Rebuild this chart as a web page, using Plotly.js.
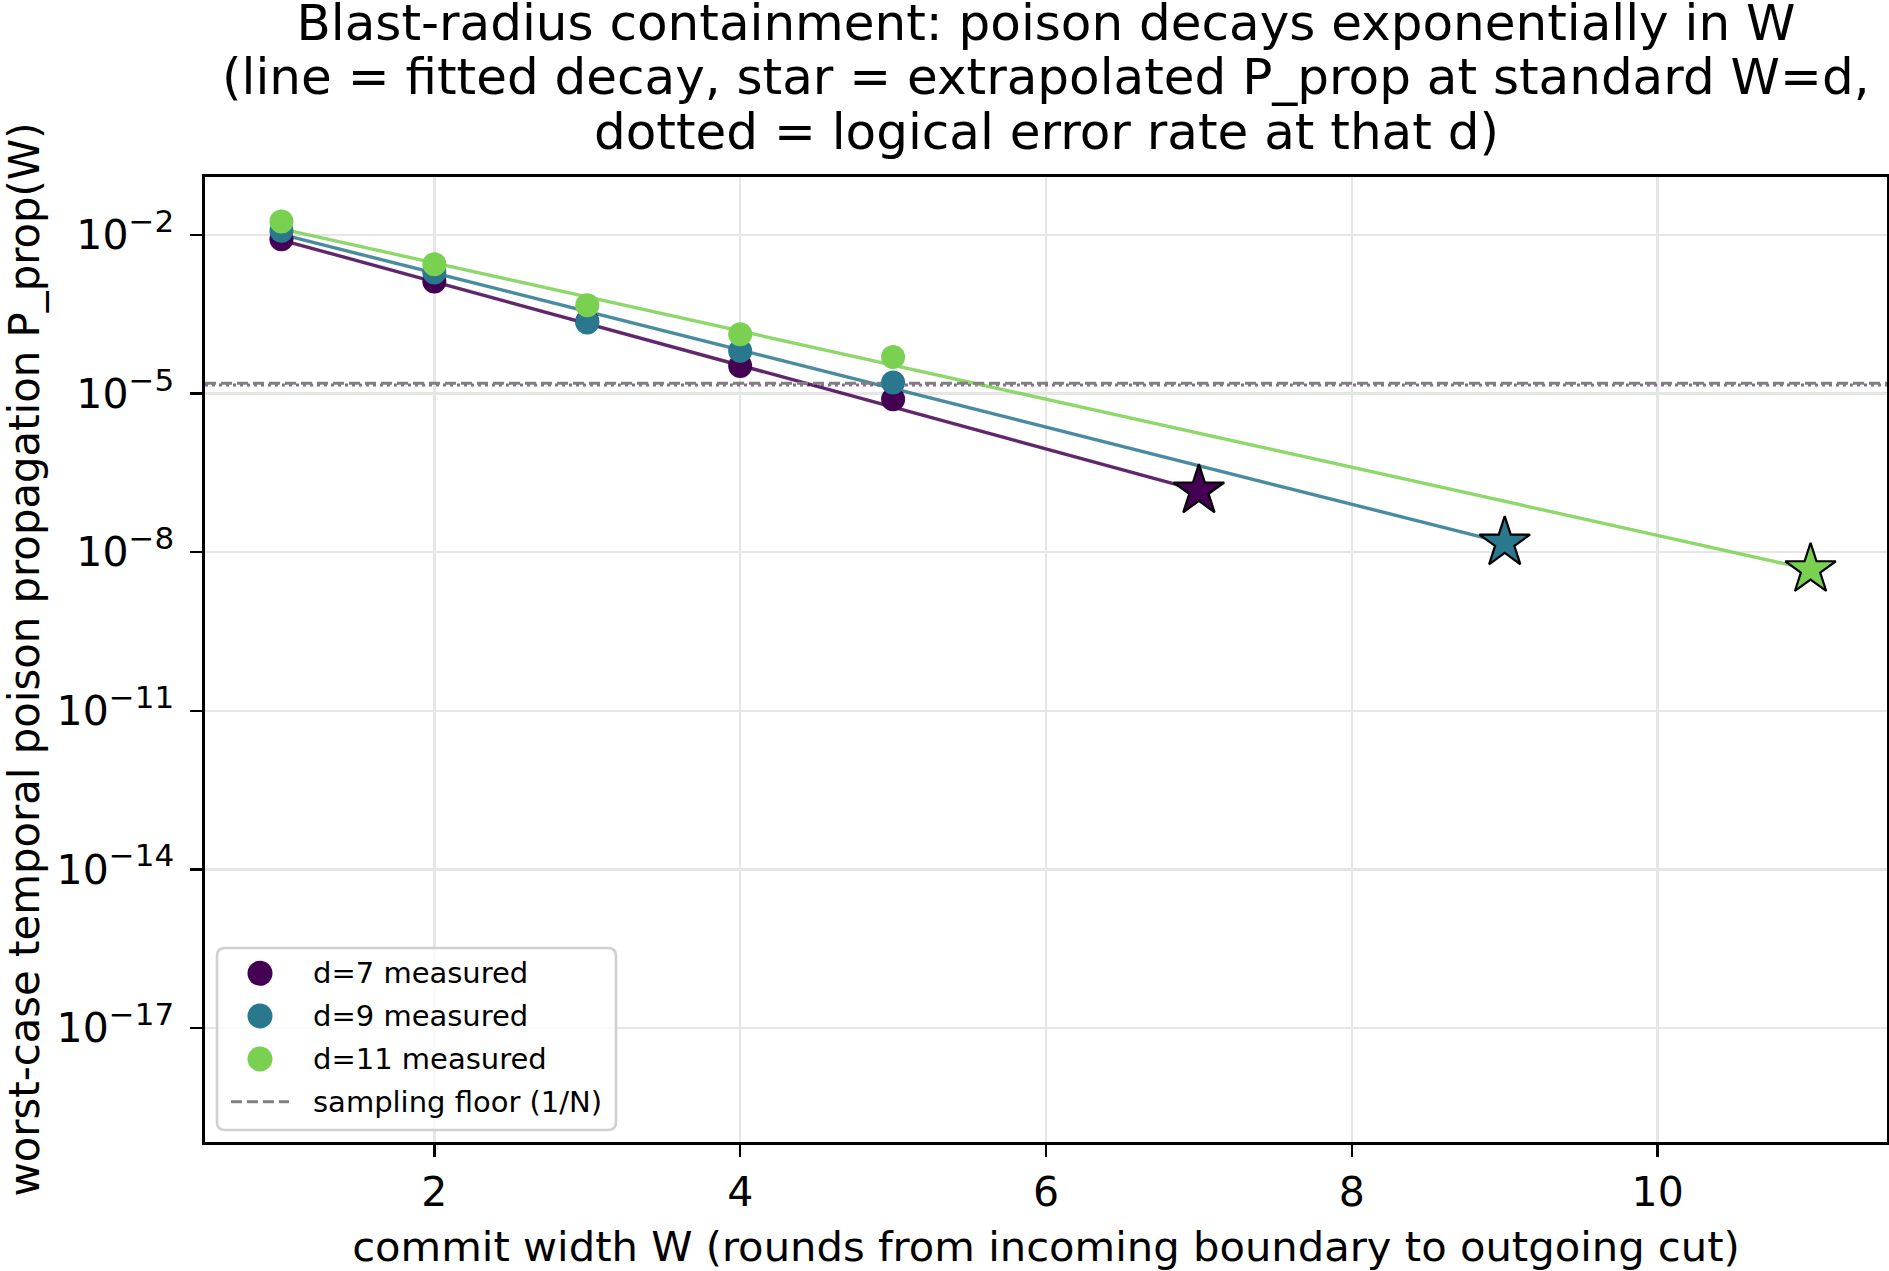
<!DOCTYPE html>
<html>
<head>
<meta charset="utf-8">
<script src="https://cdn.plot.ly/plotly-3.0.1.min.js"></script>
<style>
  html, body { margin: 0; padding: 0; background: #ffffff; }
  #chart { width: 1889px; height: 1271px; }
</style>
</head>
<body>
<div id="chart"></div>
<script>
// Commit width W (rounds) at which poison propagation was measured
const commitWidths = [1, 2, 3, 4, 5];

// Code distances and their legend labels / viridis colours
const distances = [7, 9, 11];
const seriesLabels = ['d=7 measured', 'd=9 measured', 'd=11 measured'];
const seriesColors = ['#440154', '#2a788e', '#7ad151'];

// Measured worst-case P_prop(W) per distance
const pPropD7 = [8.3e-3, 1.31e-3, 2.3e-4, 3.3e-5, 7.8e-6];
const pPropD9 = [1.2e-2, 1.94e-3, 2.2e-4, 6.4e-5, 1.61e-5];
const pPropD11 = [1.8e-2, 2.79e-3, 4.68e-4, 1.32e-4, 4.92e-5];

// Fitted exponential decay: value at W=1, and extrapolated value at W=d (star)
const fitAtW1 = [8.0e-3, 1.02e-2, 1.3e-2];
const extrapolatedAtD = [1.45e-7, 1.5e-8, 4.7e-9];

// Reference levels
const samplingFloor = 1.5625e-5;      // 1/N
const logicalErrorD7 = 1.45e-5;       // logical error rate at d=7

// Axis ticks
const xTickVals = [2, 4, 6, 8, 10];
const yTickExponents = [-2, -5, -8, -11, -14, -17];

// Text
const titleLines = [
  'Blast-radius containment: poison decays exponentially in W',
  '(line = fitted decay, star = extrapolated P_prop at standard W=d,',
  'dotted = logical error rate at that d)'
];
const xTitle = 'commit width W (rounds from incoming boundary to outgoing cut)';
const yTitle = 'worst-case temporal poison propagation P_prop(W)';
const legendFloorLabel = 'sampling floor (1/N)';

// ---------------------------------------------------------------
const FONT = 'DejaVu Sans, Verdana, sans-serif';
const FIG_W = 1889, FIG_H = 1271;
const M = { l: 205, r: 2, t: 177, b: 129 };
const PLOT_W = FIG_W - M.l - M.r;
const PLOT_H = FIG_H - M.t - M.b;
const xRange = [0.5, 11.5];
const yRangeLog = [-19.157, -0.905];

const px2x = px => (px - M.l) / PLOT_W;
const px2y = py => (FIG_H - M.b - py) / PLOT_H;

const measured = [pPropD7, pPropD9, pPropD11];
const traces = [];

// logical error rate (dotted) across the axis
traces.push({
  x: xRange, y: [logicalErrorD7, logicalErrorD7],
  mode: 'lines', type: 'scatter', showlegend: false, hoverinfo: 'skip',
  line: { color: seriesColors[0], width: 3, dash: '3px,4px' },
  opacity: 0.6
});

// fitted decay lines, W=1 .. W=d
distances.forEach((d, i) => {
  traces.push({
    x: [commitWidths[0], d], y: [fitAtW1[i], extrapolatedAtD[i]],
    mode: 'lines', type: 'scatter', showlegend: false, hoverinfo: 'skip',
    line: { color: seriesColors[i], width: 3.4 },
    opacity: 0.85
  });
});

// sampling floor (dashed)
traces.push({
  x: xRange, y: [samplingFloor, samplingFloor],
  mode: 'lines', type: 'scatter', name: legendFloorLabel, showlegend: false,
  line: { color: '#808080', width: 3.2, dash: '11px,5px' }
});

// measured points
distances.forEach((d, i) => {
  traces.push({
    x: commitWidths, y: measured[i],
    mode: 'markers', type: 'scatter', name: seriesLabels[i], showlegend: false,
    marker: { color: seriesColors[i], size: 24, line: { width: 0 } }
  });
});

// extrapolated stars at W=d
distances.forEach((d, i) => {
  traces.push({
    x: [d], y: [extrapolatedAtD[i]],
    mode: 'markers', type: 'scatter', showlegend: false,
    marker: { symbol: 'star', color: seriesColors[i], size: 38,
              line: { color: '#000000', width: 2.2 } }
  });
});

// ---- legend (drawn as shapes + text) ----
const shapes = [];
const annotations = [];
const LG = { left: 217, right: 616, top: 948, bottom: 1130, r: 8 };
const boxPath = (() => {
  const L = LG.left, R = LG.right, T = LG.top, B = LG.bottom, r = LG.r;
  const p = (x, y) => px2x(x).toFixed(6) + ',' + px2y(y).toFixed(6);
  return 'M' + p(L + r, T) + ' L' + p(R - r, T) + ' Q' + p(R, T) + ' ' + p(R, T + r) +
         ' L' + p(R, B - r) + ' Q' + p(R, B) + ' ' + p(R - r, B) +
         ' L' + p(L + r, B) + ' Q' + p(L, B) + ' ' + p(L, B - r) +
         ' L' + p(L, T + r) + ' Q' + p(L, T) + ' ' + p(L + r, T) + ' Z';
})();
shapes.push({
  type: 'path', xref: 'paper', yref: 'paper', path: boxPath, layer: 'above',
  fillcolor: 'rgba(255,255,255,0.8)', line: { color: '#d0d0d0', width: 2.6 }
});
const rowY = [973.3, 1016, 1059, 1101.7];
const symX = 260, textX = 311;
seriesLabels.forEach((lab, i) => {
  shapes.push({
    type: 'circle', xref: 'paper', yref: 'paper', layer: 'above',
    xsizemode: 'pixel', ysizemode: 'pixel',
    xanchor: px2x(symX), yanchor: px2y(rowY[i]),
    x0: -12.5, x1: 12.5, y0: -12.5, y1: 12.5,
    fillcolor: seriesColors[i], line: { width: 0 }
  });
  annotations.push({
    xref: 'paper', yref: 'paper', x: px2x(textX), y: px2y(rowY[i]),
    xanchor: 'left', yanchor: 'middle', showarrow: false, text: lab,
    font: { family: FONT, size: 29, color: '#000000' }
  });
});
shapes.push({
  type: 'line', xref: 'paper', yref: 'paper', layer: 'above',
  x0: px2x(231), x1: px2x(289), y0: px2y(rowY[3]), y1: px2y(rowY[3]),
  line: { color: '#808080', width: 3, dash: '11px,5px' }
});
annotations.push({
  xref: 'paper', yref: 'paper', x: px2x(textX), y: px2y(rowY[3]),
  xanchor: 'left', yanchor: 'middle', showarrow: false, text: legendFloorLabel,
  font: { family: FONT, size: 29, color: '#000000' }
});

// ---- title: first line as the layout title, the two follow-on lines below it ----
const TITLE_SIZE = 50;
const titleCenters = [22.5, 76.7, 132.1];   // vertical centres of the three lines, px from top
[1, 2].forEach(k => {
  annotations.push({
    xref: 'paper', yref: 'paper', x: 0.5, y: px2y(titleCenters[k]),
    xanchor: 'center', yanchor: 'middle', showarrow: false, text: titleLines[k],
    font: { family: FONT, size: TITLE_SIZE, color: '#000000' }
  });
});

const TICK_SIZE = 41;
const SUP_SIZE = 31;
const layout = {
  width: FIG_W, height: FIG_H,
  margin: M,
  paper_bgcolor: '#ffffff', plot_bgcolor: '#ffffff',
  showlegend: false,
  font: { family: FONT, color: '#000000' },
  title: {
    text: titleLines[0],
    font: { family: FONT, size: TITLE_SIZE, color: '#000000' },
    x: 0.5, xref: 'paper', xanchor: 'center',
    y: 1 - titleCenters[0] / FIG_H, yref: 'container', yanchor: 'middle'
  },
  xaxis: {
    range: xRange, tickvals: xTickVals, ticktext: xTickVals.map(String),
    ticks: 'outside', ticklen: 12, tickwidth: 2.4, tickcolor: '#000000',
    showline: true, linecolor: '#000000', linewidth: 2.6, mirror: true,
    showgrid: true, gridcolor: '#e6e6e6', gridwidth: 2.4, zeroline: false,
    tickfont: { family: FONT, size: TICK_SIZE, color: '#000000' },
    title: { text: xTitle, font: { family: FONT, size: 41.7, color: '#000000' }, standoff: 18 },
    automargin: false
  },
  yaxis: {
    type: 'log', range: yRangeLog,
    tickvals: yTickExponents.map(e => Math.pow(10, e)),
    ticktext: yTickExponents.map(e =>
      '10<sup><span style="font-size:' + SUP_SIZE + 'px">\u2212' + Math.abs(e) + '</span></sup>'),
    ticks: 'outside', ticklen: 12, tickwidth: 2.4, tickcolor: '#000000',
    ticklabelstandoff: 8,
    showline: true, linecolor: '#000000', linewidth: 2.6, mirror: true,
    showgrid: true, gridcolor: '#e6e6e6', gridwidth: 2.4, zeroline: false,
    tickfont: { family: FONT, size: TICK_SIZE, color: '#000000' },
    title: { text: yTitle, font: { family: FONT, size: 41.8, color: '#000000' }, standoff: 18 },
    automargin: false
  },
  shapes: shapes,
  annotations: annotations
};

Plotly.newPlot('chart', traces, layout, { displayModeBar: false, staticPlot: true });
</script>
</body>
</html>
